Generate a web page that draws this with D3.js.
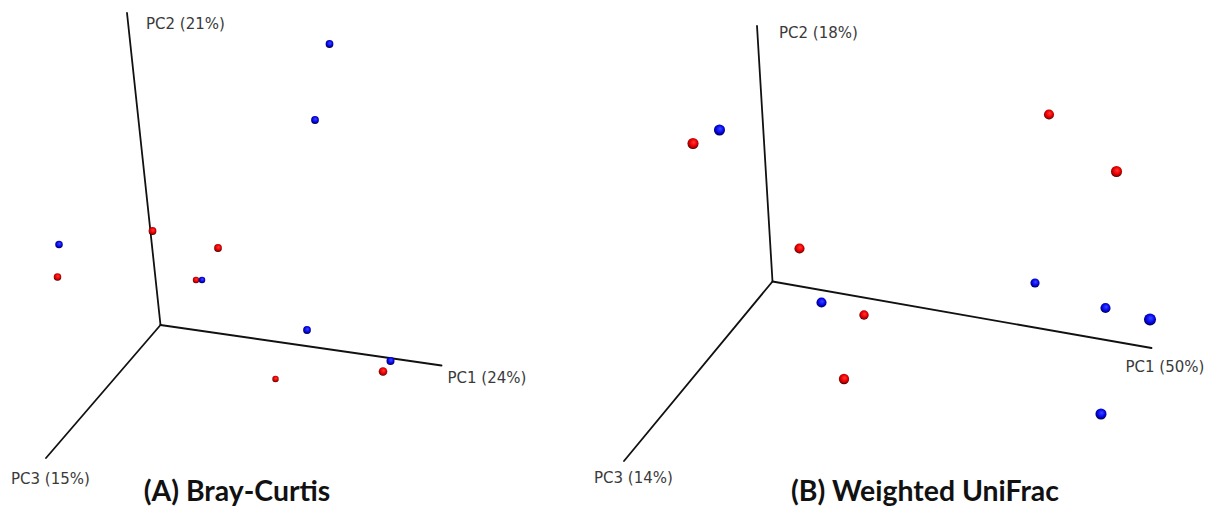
<!DOCTYPE html>
<html>
<head>
<meta charset="utf-8">
<script src="https://cdn.jsdelivr.net/npm/d3@7"></script>
<style>
  html, body { margin: 0; padding: 0; background: #fff; }
  svg { display: block; }
</style>
</head>
<body>
<svg id="chart" width="1207" height="508"></svg>
<script>
// ---- DATA (projected PCoA coordinates, arbitrary projected units 0-100) ----
const panelTitles = ["(A) Bray-Curtis", "(B) Weighted UniFrac"];
const axisNames = ["PC1", "PC2", "PC3"];
const axisPctA = [24, 21, 15];
const axisPctB = [50, 18, 14];

// axis origin and end points (projected x, projected y)
const axesOriginA = [32.1, 35.0];
const axesEndsA = [[88.3, 26.9], [25.4, 97.4], [9.2, 8.4]];
const axesOriginB = [34.5, 43.7];
const axesEndsB = [[110.3, 30.4], [31.4, 94.8], [4.8, 7.8]];

// points: [projected x, projected y, depth 0..1]
const redA = [[11.5, 44.6, 0.6], [30.5, 53.8, 0.7], [43.6, 50.4, 0.7], [39.2, 44.0, 0.2], [76.6, 25.7, 1.0], [55.1, 24.2, 0.2]];
const blueA = [[65.9, 91.2, 0.7], [63.0, 76.0, 0.7], [11.8, 51.1, 0.6], [40.4, 44.0, 0.25], [61.4, 34.0, 0.7], [78.1, 27.8, 0.8]];
const redB = [[18.6, 71.3, 0.65], [89.8, 77.1, 0.4], [103.3, 65.7, 0.65], [39.9, 50.3, 0.4], [52.8, 37.0, 0.2], [48.8, 24.2, 0.45]];
const blueB = [[23.9, 74.0, 0.65], [87.0, 43.4, 0.15], [101.1, 38.4, 0.4], [110.0, 36.1, 0.9], [44.3, 39.5, 0.4], [100.2, 17.2, 0.65]];

// ---- DRAWING ----
const svg = d3.select("#chart");
const defs = svg.append("defs");

function ball(id, c0, c1, c2, c3) {
  const g = defs.append("radialGradient").attr("id", id)
    .attr("cx", "0.5").attr("cy", "0.45").attr("r", "0.55")
    .attr("fx", "0.58").attr("fy", "0.38");
  g.append("stop").attr("offset", "0%").attr("stop-color", c0);
  g.append("stop").attr("offset", "55%").attr("stop-color", c1);
  g.append("stop").attr("offset", "82%").attr("stop-color", c2);
  g.append("stop").attr("offset", "100%").attr("stop-color", c3);
}
ball("redBall", "#ff3a3a", "#f20000", "#a80000", "#2a0000");
ball("blueBall", "#3a4cff", "#0a0af5", "#0000a0", "#00002a");

const panels = [
  { title: panelTitles[0], xRange: [0, 500], origin: axesOriginA, ends: axesEndsA, pct: axisPctA,
    red: redA, blue: blueA, rRange: [2.9, 4.3], titleX: 237,
    labelOff: [[6, 12], [19, 11], [-35, 21]] },
  { title: panelTitles[1], xRange: [600, 1100], origin: axesOriginB, ends: axesEndsB, pct: axisPctB,
    red: redB, blue: blueB, rRange: [4.3, 6.2], titleX: 925,
    labelOff: [[-26, 19], [22, 7], [-30, 17]] }
];

panels.forEach(p => {
  const x = d3.scaleLinear().domain([0, 100]).range(p.xRange);
  const y = d3.scaleLinear().domain([0, 100]).range([500, 0]);
  const r = d3.scaleLinear().domain([0, 1]).range(p.rRange);
  const g = svg.append("g");

  // axes
  g.selectAll("line.axis").data(p.ends).join("line")
    .attr("class", "axis")
    .attr("x1", x(p.origin[0])).attr("y1", y(p.origin[1]))
    .attr("x2", d => x(d[0])).attr("y2", d => y(d[1]))
    .attr("stroke", "#111").attr("stroke-width", 1.8).attr("stroke-linecap", "round");

  // axis labels
  g.selectAll("text.axlab").data(p.ends).join("text")
    .attr("class", "axlab")
    .attr("x", (d, i) => x(d[0]) + p.labelOff[i][0])
    .attr("y", (d, i) => y(d[1]) + p.labelOff[i][1])
    .attr("dominant-baseline", "central")
    .attr("font-family", "DejaVu Sans")
    .attr("font-size", 15)
    .attr("fill", "#3a3a3a")
    .text((d, i) => `${axisNames[i]} (${p.pct[i]}%)`);

  // points
  g.selectAll("circle.red").data(p.red).join("circle")
    .attr("class", "red")
    .attr("cx", d => x(d[0])).attr("cy", d => y(d[1])).attr("r", d => r(d[2]))
    .attr("fill", "url(#redBall)");
  g.selectAll("circle.blue").data(p.blue).join("circle")
    .attr("class", "blue")
    .attr("cx", d => x(d[0])).attr("cy", d => y(d[1])).attr("r", d => r(d[2]))
    .attr("fill", "url(#blueBall)");

  // title
  g.append("text")
    .attr("x", p.titleX).attr("y", 501)
    .attr("text-anchor", "middle")
    .attr("font-family", "Lato")
    .attr("font-weight", "bold")
    .attr("font-size", 28.4)
    .attr("fill", "#111")
    .text(p.title);
});
</script>
</body>
</html>
